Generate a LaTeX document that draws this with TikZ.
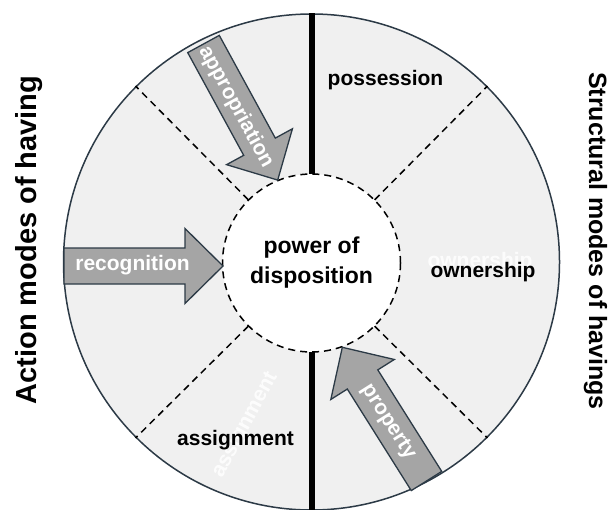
\documentclass[tikz,border=0pt]{standalone}
\usepackage{fontspec}
\setmainfont{Liberation Sans}
\definecolor{diskgray}{RGB}{240,240,240}
\definecolor{rimcolor}{RGB}{44,58,70}
\definecolor{arrowgray}{RGB}{165,165,165}

% block arrow: tail centre, direction (degrees, counter-clockwise on the page), length
\newcommand\blockarrow[3]{%
  \begin{scope}[shift={#1}, rotate=#2]
    \draw[arrowbody] (0,-18) -- ({#3-38},-18) -- ({#3-38},-37.5) -- (#3,0)
      -- ({#3-38},37.5) -- ({#3-38},18) -- (0,18) -- cycle;
  \end{scope}}

\begin{document}
\begin{tikzpicture}[x=1pt,y=-1pt,
  ring/.style={circle, fill=diskgray, draw=rimcolor, line width=1.5pt, inner sep=0pt},
  hub/.style={circle, fill=white, draw=black, line width=1.5pt,
    dash pattern=on 7pt off 5pt, inner sep=0pt},
  spoke/.style={draw=black, line width=1.5pt, dash pattern=on 7pt off 5pt},
  divider/.style={draw=black, line width=6pt},
  arrowbody/.style={fill=arrowgray, draw=rimcolor, line width=1.3pt, line join=miter},
  label/.style={font=\bfseries\fontsize{21}{24}\selectfont, text=black, inner sep=0pt},
  corelabel/.style={font=\bfseries\fontsize{23}{28}\selectfont, text=black, inner sep=0pt},
  arrowlabel/.style={font=\bfseries\fontsize{21}{24}\selectfont, text=white, inner sep=0pt},
  ghost/.style={font=\bfseries\fontsize{21}{24}\selectfont, text=white, opacity=0.85, inner sep=0pt},
  sidelabel/.style={font=\bfseries\fontsize{29}{34}\selectfont, text=black, inner sep=0pt},
  sidelabelright/.style={font=\bfseries\fontsize{25}{30}\selectfont, text=black, inner sep=0pt},
]
\useasboundingbox (0,0) rectangle (609,510);

% outer disk and inner hub
\node[ring, minimum size=496pt] (disk) at (311.5,262) {};
\node[circle, minimum size=178pt, inner sep=0pt] (hubarea) at (311.5,263) {};

% thick vertical dividers
\draw[divider] (hubarea.north) -- (disk.north);
\draw[divider] (hubarea.south) -- (disk.south);

% dashed sector boundaries
\draw[spoke] (hubarea.45) -- (disk.45);
\draw[spoke] (hubarea.135) -- (disk.135);
\draw[spoke] (hubarea.225) -- (disk.225);
\draw[spoke] (hubarea.315) -- (disk.315);

% central hub
\node[hub, minimum size=178pt] (hub) at (311.5,263) {};
\node[corelabel, anchor=base] (core1) at (311.5,253) {power of};
\node[corelabel, anchor=base] (core2) at (311.5,283) {disposition};

% faint white labels behind the sector texts
\node[ghost, anchor=base] (ownghost) at (480,267) {ownership};
\node[ghost, rotate=61.7] (assghost) at (245,425) {assignment};

% sector labels
\node[label, anchor=base] (possession) at (385.5,86) {possession};
\node[label, anchor=base] (ownership) at (483,277) {ownership};
\node[label, anchor=base] (assignment) at (235.5,445) {assignment};

% block arrows pointing at the hub
\blockarrow{(64,266)}{0}{159}
\blockarrow{(203.5,44)}{-61.4}{155}
\blockarrow{(426.5,481)}{122.2}{158}

\node[arrowlabel, anchor=base] (recognition) at (132.5,270) {recognition};
\node[arrowlabel, rotate=-61.4] (appropriation) at (236,107) {appropriation};
\node[arrowlabel, rotate=-57.8] (property) at (388,422) {property};

% side titles
\node[sidelabel, rotate=90, anchor=base] (action) at (36,240) {Action modes of having};
\node[sidelabelright, rotate=-90, anchor=base] (structural) at (589,241) {Structural modes of havings};
\end{tikzpicture}
\end{document}
